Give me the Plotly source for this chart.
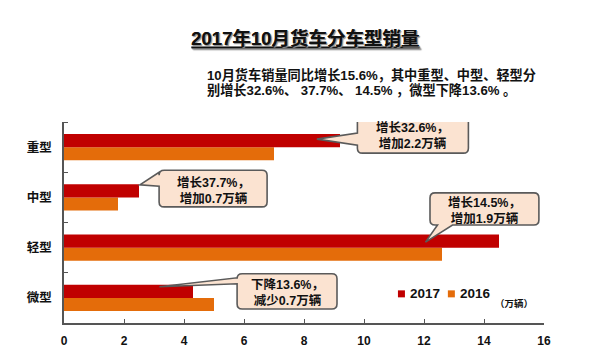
import plotly.graph_objects as go

# Truck sales by type, October (unit: 10k vehicles)
categories = ["重型", "中型", "轻型", "微型"]
sales_2017 = [9.2, 2.5, 14.5, 4.3]
sales_2016 = [7.0, 1.8, 12.6, 5.0]
series_names = ["2017", "2016"]
x_ticks = [0, 2, 4, 6, 8, 10, 12, 14, 16]
callout_text = [
    ["增长32.6%，", "增加2.2万辆"],
    ["增长37.7%，", "增加0.7万辆"],
    ["增长14.5%，", "增加1.9万辆"],
    ["下降13.6%，", "减少0.7万辆"],
]

RED = "#C00000"
ORANGE = "#E46C0A"
BOX_FILL = "#FBE3D1"
BOX_LINE = "#5A5A5A"
FONT = "Liberation Sans, Arial, Noto Sans CJK SC"

# numeric category positions, first category on top
ypos = list(range(len(categories) - 1, -1, -1))

fig = go.Figure()
fig.add_trace(go.Bar(y=ypos, x=sales_2016, orientation="h", name=series_names[1],
                     marker=dict(color=ORANGE, line=dict(width=0)), showlegend=False))
fig.add_trace(go.Bar(y=ypos, x=sales_2017, orientation="h", name=series_names[0],
                     marker=dict(color=RED, line=dict(width=0)), showlegend=False))

# ---- callouts: rounded box with a pointer tail ending on the 2017 bar ----
RX, RY = 0.17, 0.10  # corner radius in data units


def callout_path(x0, x1, y0, y1, tip, tail, side):
    """x0<x1, y0<y1 (y1 top). tail = (a, b) positions along the chosen edge."""
    tx, ty = tip
    p = [f"M{x0 + RX},{y1}", f"L{x1 - RX},{y1}", f"Q{x1},{y1} {x1},{y1 - RY}",
         f"L{x1},{y0 + RY}", f"Q{x1},{y0} {x1 - RX},{y0}"]
    if side == "bottom":
        a, b = tail  # a left, b right
        p += [f"L{b},{y0}", f"L{tx},{ty}", f"L{a},{y0}"]
    p += [f"L{x0 + RX},{y0}", f"Q{x0},{y0} {x0},{y0 + RY}"]
    if side == "left":
        a, b = tail  # a lower, b upper
        p += [f"L{x0},{a}", f"L{tx},{ty}", f"L{x0},{b}"]
    p += [f"L{x0},{y1 - RY}", f"Q{x0},{y1} {x0 + RX},{y1}", "Z"]
    return " ".join(p)


bar_half = 0.13  # offset of the 2017 bar centre within a category band
callouts = [
    # box x0, x1, y0, y1, tip dx from bar end, tip dy from bar centre, tail span, side
    dict(box=(9.78, 13.48, 2.88, 3.66), tip=(-0.77, 0.03), tail=(3.04, 3.28), side="left"),
    dict(box=(3.17, 6.77, 1.81, 2.54), tip=(0.03, 0.12), tail=(2.22, 2.50), side="left"),
    dict(box=(12.2, 15.83, 1.45, 2.09), tip=(-2.45, -0.02), tail=(12.45, 12.95), side="bottom"),
    dict(box=(5.77, 9.10, -0.22, 0.48), tip=(-1.12, 0.09), tail=(0.28, 0.40), side="left"),
]

for i, c in enumerate(callouts):
    x0, x1, y0, y1 = c["box"]
    tip = (sales_2017[i] + c["tip"][0], ypos[i] + bar_half + c["tip"][1])
    fig.add_shape(type="path", xref="x", yref="y", layer="above",
                  path=callout_path(x0, x1, y0, y1, tip, c["tail"], c["side"]),
                  fillcolor=BOX_FILL, line=dict(color=BOX_LINE, width=1.6))
    fig.add_annotation(x=(x0 + x1) / 2, y=(y0 + y1) / 2 - 0.03, xref="x", yref="y",
                       text="<br>".join(callout_text[i]), showarrow=False,
                       font=dict(family=FONT, size=12.5, color="#111111", weight="bold"),
                       align="center")

# ---- legend drawn as swatches + labels ----
legend_items = [(series_names[0], RED, 0.703), (series_names[1], ORANGE, 0.807)]
for name, col, xp in legend_items:
    fig.add_shape(type="rect", xref="paper", yref="paper", xsizemode="pixel", ysizemode="pixel",
                  xanchor=xp, yanchor=0.145, x0=-3.5, x1=3.5, y0=-3.5, y1=3.5,
                  fillcolor=col, line=dict(width=0))
    fig.add_annotation(x=xp + 0.013, y=0.145, xref="paper", yref="paper", xanchor="left",
                       yanchor="middle", text=name, showarrow=False,
                       font=dict(family=FONT, size=13.5, color="#111111", weight="bold"))

fig.add_annotation(x=0.982, y=0.06, xref="paper", yref="paper", text="（万辆）",
                   showarrow=False, font=dict(family=FONT, size=9.5, color="#111111", weight="bold"))

# subtitle, two lines
fig.add_annotation(x=0.294, y=1.236, xref="paper", yref="paper", xanchor="left", yanchor="middle",
                   text="10月货车销量同比增长15.6%，其中重型、中型、轻型分", showarrow=False,
                   font=dict(family=FONT, size=13.2, color="#111111", weight="bold"))
fig.add_annotation(x=0.294, y=1.161, xref="paper", yref="paper", xanchor="left", yanchor="middle",
                   text="别增长32.6%、 37.7%、 14.5% ，微型下降13.6% 。", showarrow=False,
                   font=dict(family=FONT, size=13.2, color="#111111", weight="bold"))

fig.update_layout(
    width=600, height=348,
    margin=dict(l=64, r=56, t=122, b=25),
    paper_bgcolor="white", plot_bgcolor="white",
    barmode="group", bargap=0.48, bargroupgap=0,
    title=dict(text="2017年10月货车分车型销量", x=0.509, y=1 - 39 / 348,
               xanchor="center", yanchor="middle", xref="container", yref="container",
               font=dict(family=FONT, size=18.5, color="#111111", weight="bold",
                         lineposition="under", shadow="1px 1px 1px #9a9a9a")),
    showlegend=False,
    xaxis=dict(range=[0, 16], tickvals=x_ticks, ticks="inside", ticklen=4, tickwidth=1.2,
               tickcolor="#555555", showline=True, linecolor="#555555", linewidth=1.5,
               showgrid=False, zeroline=False, ticklabelstandoff=6, automargin=False,
               tickfont=dict(family=FONT, size=12, color="#111111", weight="bold")),
    yaxis=dict(range=[-0.5, len(categories) - 0.5], tickvals=ypos, ticktext=categories,
               ticks="", showline=True, linecolor="#555555", linewidth=1.5, automargin=False,
               showgrid=False, zeroline=False, ticklabelstandoff=8,
               tickfont=dict(family=FONT, size=12.5, color="#111111", weight="bold"),
               minor=dict(tickvals=[p + 0.5 for p in ypos], ticks="inside", ticklen=4,
                          tickwidth=1.2, tickcolor="#555555", showgrid=False)),
)

fig.write_html("out.html")
